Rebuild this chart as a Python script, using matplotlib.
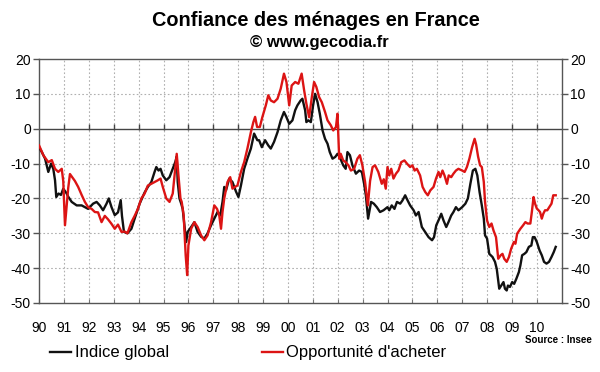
import matplotlib
matplotlib.use("Agg")
import matplotlib.pyplot as plt
from matplotlib.lines import Line2D

plt.rcParams['font.family'] = ['Liberation Sans', 'DejaVu Sans']

title = "Confiance des ménages en France"
subtitle = "© www.gecodia.fr"
source = "Source : Insee"
series_names = ["Indice global", "Opportunité d'acheter"]
year_labels = ["90", "91", "92", "93", "94", "95", "96", "97", "98", "99", "00",
               "01", "02", "03", "04", "05", "06", "07", "08", "09", "10"]
yticks = [-50, -40, -30, -20, -10, 0, 10, 20]

black_t = [1990.00, 1990.11, 1990.24, 1990.37, 1990.48, 1990.57, 1990.64, 1990.69, 1990.78, 1990.88,
           1990.97, 1991.10, 1991.17, 1991.31, 1991.51, 1991.71, 1991.97, 1992.17, 1992.31, 1992.44,
           1992.57, 1992.71, 1992.80, 1992.91, 1993.04, 1993.17, 1993.28, 1993.33, 1993.41, 1993.55,
           1993.71, 1993.84, 1994.04, 1994.24, 1994.37, 1994.51, 1994.64, 1994.71, 1994.80, 1994.88,
           1994.97, 1995.11, 1995.24, 1995.37, 1995.47, 1995.53, 1995.57, 1995.64, 1995.71, 1995.77,
           1995.84, 1995.91, 1995.97, 1996.11, 1996.24, 1996.37, 1996.51, 1996.64, 1996.77, 1996.91,
           1997.04, 1997.17, 1997.28, 1997.37, 1997.44, 1997.51, 1997.64, 1997.77, 1997.91, 1998.01,
           1998.11, 1998.24, 1998.37, 1998.51, 1998.64, 1998.77, 1998.84, 1998.95, 1999.08, 1999.21,
           1999.31, 1999.44, 1999.58, 1999.71, 1999.84, 1999.94, 2000.05, 2000.18, 2000.29, 2000.38,
           2000.51, 2000.58, 2000.69, 2000.74, 2000.82, 2000.92, 2001.01, 2001.09, 2001.19, 2001.28,
           2001.39, 2001.49, 2001.59, 2001.68, 2001.79, 2001.90, 2001.99, 2002.08, 2002.22, 2002.32,
           2002.39, 2002.49, 2002.59, 2002.73, 2002.86, 2002.97, 2003.06, 2003.13, 2003.22, 2003.34,
           2003.45, 2003.57, 2003.70, 2003.84, 2004.00, 2004.07, 2004.17, 2004.28, 2004.38, 2004.51,
           2004.60, 2004.71, 2004.81, 2004.91, 2005.05, 2005.14, 2005.25, 2005.38, 2005.51, 2005.65,
           2005.79, 2005.87, 2005.96, 2006.05, 2006.16, 2006.25, 2006.36, 2006.45, 2006.56, 2006.65,
           2006.75, 2006.85, 2007.00, 2007.13, 2007.23, 2007.33, 2007.43, 2007.53, 2007.61, 2007.70,
           2007.79, 2007.87, 2007.92, 2008.00, 2008.09, 2008.22, 2008.32, 2008.39, 2008.49, 2008.58,
           2008.66, 2008.72, 2008.79, 2008.84, 2008.92, 2009.01, 2009.09, 2009.18, 2009.28, 2009.34,
           2009.41, 2009.50, 2009.58, 2009.68, 2009.78, 2009.84, 2009.91, 2010.00, 2010.11, 2010.20,
           2010.29, 2010.39, 2010.49, 2010.59, 2010.68, 2010.76]
black_v = [-5.3, -6.7, -8.6, -12.4, -10, -11.5, -14.8, -19.6, -18.6, -19,
           -17.2, -18.5, -19.5, -21, -22, -22, -23, -21.5, -21, -22,
           -23.4, -21.5, -20, -22.5, -24.8, -24, -20.5, -25, -29.6, -30,
           -28.7, -25.8, -21.5, -18.3, -16.7, -15.3, -12.4, -11, -12, -11.5,
           -13.4, -14.8, -13.9, -11.5, -9.6, -8, -15.3, -20, -21.5, -23,
           -27.7, -32.5, -29.6, -28.2, -26.8, -29.6, -31, -31.5, -30, -27.7,
           -25.8, -23.9, -24.9, -21, -16.7, -17.7, -14.3, -15.3, -18, -19.6,
           -16.3, -11.5, -8.6, -5.7, -1.4, -3.3, -3.3, -5.3, -3.3, -4.8,
           -5.7, -3.8, -1, 2.4, 4.8, 3.3, 1.4, 2.4, 5.3, 6.7,
           8.1, 8.6, 5.3, 1.9, 2.4, 1.9, 6.7, 10, 7.6, 4.3,
           -0.5, -2.9, -4.3, -6.7, -8.6, -8.1, -7.2, -8.1, -10.5, -11.5,
           -6.7, -7.6, -10.5, -12.9, -12, -12.4, -15.8, -19.1, -25.8, -21,
           -21.5, -22.5, -23.9, -23.4, -22.5, -23.4, -22, -23, -21, -21.5,
           -20.6, -19.1, -20.6, -22, -23.4, -24.9, -23.9, -28.2, -29.6, -31.1,
           -32, -31.1, -27.7, -26.3, -24.4, -26.3, -28.2, -26.8, -24.9, -23.9,
           -22.5, -23.4, -22.5, -21.5, -20, -15.8, -12, -11.5, -13.4, -18.2,
           -22, -25.8, -30.6, -31.5, -35.9, -36.8, -38.2, -40.2, -45.9, -44.9,
           -44, -45.9, -46.4, -45, -45.4, -44, -44.5, -43, -41.1, -39.2,
           -36.3, -35.9, -35.4, -33.9, -33.5, -31.1, -31.1, -32.5, -34.9, -36.3,
           -38.2, -38.7, -38.2, -36.8, -35.4, -33.9]

red_t = [1990.00, 1990.17, 1990.37, 1990.51, 1990.64, 1990.77, 1990.91, 1990.97, 1991.04, 1991.11,
         1991.17, 1991.24, 1991.37, 1991.44, 1991.57, 1991.71, 1991.84, 1991.97, 1992.11, 1992.24,
         1992.37, 1992.51, 1992.64, 1992.77, 1992.91, 1993.04, 1993.17, 1993.31, 1993.44, 1993.55,
         1993.71, 1993.84, 1993.97, 1994.11, 1994.24, 1994.37, 1994.51, 1994.64, 1994.77, 1994.88,
         1994.97, 1995.11, 1995.24, 1995.37, 1995.47, 1995.53, 1995.60, 1995.68, 1995.73, 1995.81,
         1995.89, 1995.95, 1996.00, 1996.11, 1996.24, 1996.37, 1996.51, 1996.64, 1996.77, 1996.91,
         1997.04, 1997.15, 1997.24, 1997.31, 1997.37, 1997.44, 1997.57, 1997.68, 1997.77, 1997.87,
         1997.97, 1998.11, 1998.24, 1998.37, 1998.51, 1998.61, 1998.68, 1998.76, 1998.87, 1998.97,
         1999.11, 1999.21, 1999.31, 1999.44, 1999.58, 1999.71, 1999.84, 1999.94, 2000.05, 2000.15,
         2000.29, 2000.42, 2000.55, 2000.65, 2000.74, 2000.85, 2000.96, 2001.05, 2001.14, 2001.25,
         2001.36, 2001.49, 2001.59, 2001.72, 2001.82, 2001.93, 2001.99, 2002.06, 2002.12, 2002.22,
         2002.32, 2002.43, 2002.53, 2002.66, 2002.79, 2002.89, 2002.99, 2003.10, 2003.21, 2003.30,
         2003.40, 2003.50, 2003.63, 2003.77, 2003.85, 2003.93, 2004.00, 2004.07, 2004.15, 2004.24,
         2004.34, 2004.44, 2004.55, 2004.68, 2004.78, 2004.91, 2005.00, 2005.09, 2005.18, 2005.31,
         2005.41, 2005.52, 2005.62, 2005.72, 2005.85, 2005.95, 2006.05, 2006.12, 2006.21, 2006.29,
         2006.39, 2006.46, 2006.56, 2006.65, 2006.75, 2006.85, 2007.00, 2007.10, 2007.19, 2007.29,
         2007.40, 2007.50, 2007.56, 2007.64, 2007.72, 2007.79, 2007.87, 2007.92, 2008.00, 2008.09,
         2008.18, 2008.26, 2008.36, 2008.45, 2008.55, 2008.62, 2008.69, 2008.79, 2008.88, 2008.97,
         2009.08, 2009.14, 2009.21, 2009.34, 2009.45, 2009.54, 2009.63, 2009.74, 2009.80, 2009.87,
         2009.93, 2010.00, 2010.07, 2010.13, 2010.20, 2010.26, 2010.33, 2010.42, 2010.50, 2010.59,
         2010.66, 2010.76]
red_v = [-4.8, -7.6, -9.6, -9, -11.5, -12.4, -11.5, -15, -27.7, -22,
         -17, -13, -14.3, -15, -16.7, -19, -21, -22.5, -23, -23.9,
         -24, -26.8, -25, -26, -27.3, -28.7, -27.5, -29.6, -29.5, -30,
         -26.8, -25, -23, -20, -18.6, -16.3, -15.8, -15.3, -14.8, -14.3,
         -16.7, -20, -21, -18.6, -11.5, -7.2, -13.4, -20, -21, -24.9,
         -36.3, -42, -33.5, -28.7, -26.8, -28.2, -30.6, -32, -30.6, -26.8,
         -22, -23, -24.9, -28.7, -23.9, -20, -15.3, -13.9, -17.2, -16.7,
         -16.3, -12.4, -9.6, -5.7, -1, 1.9, 3.4, 0.5, 0.5, 3.3,
         6.7, 9.6, 8.1, 7.6, 8.6, 11.5, 15.8, 13.4, 6.7, 12.4,
         13.4, 12.9, 15.8, 11, 7.2, 3.3, 9.1, 13.4, 12, 9.1,
         7.6, 4.8, 2.4, 1, -0.5, 0.5, 4.3, -8.6, -7.2, -9.1,
         -9.6, -10.5, -12, -11.5, -8.6, -7.6, -10.5, -15.3, -22, -15,
         -11, -10.5, -12.4, -15.8, -14.5, -17.2, -11, -13.4, -11.5, -14.3,
         -12.9, -12, -9.6, -9.1, -10, -11, -10.5, -12, -11.5, -13.4,
         -16.7, -18.2, -19.1, -17.7, -16.7, -14.3, -12.4, -13.9, -12, -13.4,
         -15.8, -13.4, -13.9, -12.9, -12, -11.5, -12, -12.4, -11, -8.6,
         -5.3, -2.9, -4.5, -8, -10.5, -11, -15.3, -21, -26.3, -28.2,
         -27.2, -29.2, -31.1, -37.3, -36.3, -35.9, -37.3, -38.2, -36.8, -34.4,
         -32.5, -33, -30.1, -28.7, -27.7, -26.8, -27.2, -27.2, -23.9, -19.6,
         -21.5, -22.9, -23.4, -23.9, -25.8, -24.4, -23.4, -23.4, -22.5, -21.5,
         -19.1, -19.1]

black_col = "#111111"
red_col = "#dc1414"

fig = plt.figure(figsize=(6.0, 3.72), dpi=100)
ax = fig.add_axes([39.1 / 600, 1 - 303 / 372, (561.7 - 39.1) / 600, (303 - 59) / 372])

years = list(range(1990, 2011))
ax.set_xlim(1990, 2011)
ax.set_ylim(-50, 20)

# grid
for yv in yticks[1:-1]:
    if yv != 0:
        ax.axhline(yv, color="#b0b0b0", lw=0.8, ls=(0, (1.5, 2)), zorder=0)
for xv in years[1:]:
    ax.axvline(xv, color="#b0b0b0", lw=0.8, ls=(0, (1.5, 2)), zorder=0)

ax.axhline(0, color="#444444", lw=1.0, zorder=1)
ax.vlines(years[1:], -0.3, 1.4, color="#444444", lw=1.0, zorder=1)

ax.plot(black_t, black_v, color=black_col, lw=1.7, zorder=3, solid_joinstyle="round")
ax.plot(red_t, red_v, color=red_col, lw=1.7, zorder=4, solid_joinstyle="round")

for sp in ax.spines.values():
    sp.set_color("#555555")
    sp.set_linewidth(1.0)

ax.set_yticks(yticks)
ax.set_yticklabels([str(v) for v in yticks])
ax.tick_params(axis="y", which="both", left=True, right=True, labelleft=True, labelright=True,
               length=4, width=1.0, color="#555555", labelsize=10, pad=2)
ax.set_xticks(years)
ax.set_xticklabels(year_labels)
ax.tick_params(axis="x", length=3, direction="in", width=0.8, color="#777777", labelsize=10, pad=13)

fig.text(0.527, 1 - 20 / 372, title, ha="center", va="center", fontsize=14.3, fontweight="bold")
fig.text(0.533, 1 - 43 / 372, subtitle, ha="center", va="center", fontsize=12, fontweight="bold")
fig.text(592 / 600, 1 - 340 / 372, source, ha="right", va="center", fontsize=7, fontweight="bold")

ly = 1 - 352 / 372
fig.add_artist(Line2D([50 / 600, 71 / 600], [ly, ly], color=black_col, lw=1.7))
fig.text(75 / 600, ly, series_names[0], ha="left", va="center", fontsize=12)
fig.add_artist(Line2D([261.5 / 600, 282.7 / 600], [ly, ly], color=red_col, lw=1.7))
fig.text(286 / 600, ly, series_names[1], ha="left", va="center", fontsize=12)

fig.savefig("out.png", dpi=100)
